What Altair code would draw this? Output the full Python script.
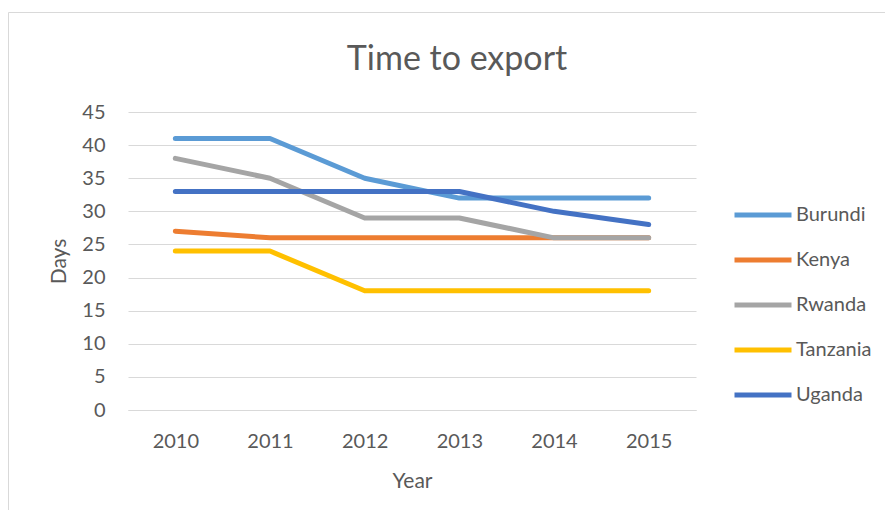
import altair as alt
import pandas as pd

years = ["2010", "2011", "2012", "2013", "2014", "2015"]
countries = ["Burundi", "Kenya", "Rwanda", "Tanzania", "Uganda"]
burundi = [41, 41, 35, 32, 32, 32]
kenya = [27, 26, 26, 26, 26, 26]
rwanda = [38, 35, 29, 29, 26, 26]
tanzania = [24, 24, 18, 18, 18, 18]
uganda = [33, 33, 33, 33, 30, 28]
colors = ["#5B9BD5", "#ED7D31", "#A5A5A5", "#FFC000", "#4472C4"]

series = dict(zip(countries, [burundi, kenya, rwanda, tanzania, uganda]))
rows = []
for i, c in enumerate(countries):
    for y, v in zip(years, series[c]):
        rows.append({"Year": y, "Days": v, "Country": c, "order": i})
df = pd.DataFrame(rows)

FONT = "Lato"
TXT = "#595959"
GRID = "#D9D9D9"

lines = alt.Chart(df).mark_line(strokeWidth=5, strokeCap="round", strokeJoin="round").encode(
    x=alt.X("Year:O", scale=alt.Scale(type="point", padding=0.5),
            axis=alt.Axis(title="Year", labelAngle=0, ticks=False, domainColor=GRID,
                          labelPadding=21, titlePadding=19, grid=False)),
    y=alt.Y("Days:Q", scale=alt.Scale(domain=[0, 45], nice=False),
            axis=alt.Axis(title="Days", values=list(range(0, 46, 5)), ticks=False, domain=False,
                          labelPadding=23, titlePadding=12, gridColor=GRID)),
    color=alt.Color("Country:N", scale=alt.Scale(domain=countries, range=colors),
                    legend=alt.Legend(title=None, orient="none", legendX=604, legendY=72,
                                      symbolType="stroke", symbolSize=3249, symbolStrokeWidth=5,
                                      labelOffset=2, rowPadding=4)),
    order="order:Q",
)

one = pd.DataFrame({"a": [0]})
left_border = alt.Chart(one).mark_rule(color=GRID, strokeWidth=1).encode(
    x=alt.value(-119.5), y=alt.value(-99.5), y2=alt.value(500))
top_border = alt.Chart(one).mark_rule(color=GRID, strokeWidth=1).encode(
    x=alt.value(-119.5), x2=alt.value(900), y=alt.value(-99.5))

chart = alt.layer(left_border, top_border, lines).properties(
    width=568, height=298,
    padding={"left": 120, "top": 104, "right": 189, "bottom": 100},
    autosize=alt.AutoSizeParams(type="none"),
    title=alt.TitleParams("Time to export", fontSize=34, font=FONT, color=TXT, fontWeight="normal",
                          anchor="middle", frame="group", dx=45, offset=-92, baseline="alphabetic"),
).configure_view(stroke=None).configure_axis(
    labelFont=FONT, titleFont=FONT, labelFontSize=20, titleFontSize=21,
    labelColor=TXT, titleColor=TXT, titleFontWeight="normal",
).configure_legend(labelFont=FONT, labelFontSize=20, labelColor=TXT)

chart.save("out.html", embed_options={"renderer": "svg", "actions": False})
